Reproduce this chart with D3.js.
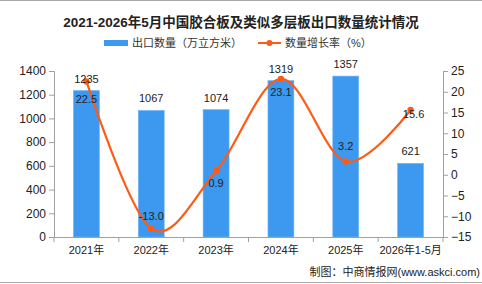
<!DOCTYPE html>
<html><head><meta charset="utf-8">
<script src="https://cdn.jsdelivr.net/npm/d3@7"></script>
<style>
body{margin:0;background:#fff;}
text{font-family:"Liberation Sans","Noto Sans CJK SC",sans-serif;}
</style></head>
<body><svg id="c" width="482" height="284"></svg>
<script>
const categories = ["2021年","2022年","2023年","2024年","2025年","2026年1-5月"];
const exportVolume = [1235,1067,1074,1319,1357,621];
const growthRate = [22.5,-13.0,0.9,23.1,3.2,15.6];
const leftTicks = [0,200,400,600,800,1000,1200,1400];
const rightTicks = [-15,-10,-5,0,5,10,15,20,25];
const title = "2021-2026年5月中国胶合板及类似多层板出口数量统计情况";
const legendLabels = ["出口数量（万立方米）","数量增长率（%）"];
const source = "制图：中商情报网(www.askci.com)";

const svg = d3.select("#c");
const W = 482, H = 284;
const m = {l:54, r:443, t:71, b:237};
const barColor = "#3d98ef", lineColor = "#ff5b14", axisColor = "#a0a0a0";

svg.append("line").attr("x1",0).attr("x2",W).attr("y1",0.5).attr("y2",0.5).attr("stroke","#aaa");
svg.append("line").attr("x1",0).attr("x2",W).attr("y1",282.5).attr("y2",282.5).attr("stroke","#aaa");

svg.append("text").attr("x",241).attr("y",27).attr("text-anchor","middle")
  .attr("font-size","13.5px").attr("font-weight","bold").attr("fill","#222").text(title);

// legend
svg.append("rect").attr("x",104).attr("y",40).attr("width",24).attr("height",6).attr("fill",barColor);
svg.append("text").attr("x",132).attr("y",47).attr("font-size","11px").attr("fill","#333").text(legendLabels[0]);
svg.append("line").attr("x1",258).attr("x2",281).attr("y1",43).attr("y2",43).attr("stroke",lineColor).attr("stroke-width",2);
svg.append("circle").attr("cx",269.5).attr("cy",43).attr("r",3).attr("fill",lineColor);
svg.append("text").attr("x",285).attr("y",47).attr("font-size","11px").attr("fill","#333").text(legendLabels[1]);

const x = d3.scaleBand().domain(categories).range([m.l,m.r]).paddingInner(0.6).paddingOuter(0.3);
const xb = d3.scaleBand().domain(categories).range([m.l,m.r]);
const yL = d3.scaleLinear().domain([0,1400]).range([m.b,m.t]);
const yR = d3.scaleLinear().domain([-15,25]).range([m.b,m.t]);

// bars
svg.selectAll("rect.bar").data(exportVolume).enter().append("rect").attr("class","bar")
  .attr("x",(d,i)=>x(categories[i])).attr("width",x.bandwidth())
  .attr("y",d=>yL(d)).attr("height",d=>yL(0)-yL(d))
  .attr("fill",barColor).attr("stroke","#6fb4f5").attr("stroke-width",0.6);

// axes
const axL = svg.append("g").attr("transform",`translate(${m.l},0)`)
  .call(d3.axisLeft(yL).tickValues(leftTicks).tickSize(5).tickPadding(3).tickFormat(d3.format("d")));
const axR = svg.append("g").attr("transform",`translate(${m.r},0)`)
  .call(d3.axisRight(yR).tickValues(rightTicks).tickSize(5).tickPadding(3)
  .tickFormat(d=>d<0?"\u2212"+Math.abs(d):d));
const axX = svg.append("g").attr("transform",`translate(0,${m.b})`)
  .call(d3.axisBottom(xb).tickSize(0).tickPadding(9));
// band boundary ticks
svg.append("g").selectAll("line").data(categories.concat(["end"])).enter().append("line")
  .attr("x1",(d,i)=>m.l+i*xb.step()).attr("x2",(d,i)=>m.l+i*xb.step())
  .attr("y1",m.b).attr("y2",m.b+5).attr("stroke",axisColor);
[axL,axR,axX].forEach(a=>{
  a.selectAll("path,line").attr("stroke",axisColor);
  a.selectAll("text").attr("fill","#222");
});
axL.selectAll("text").attr("font-size","12px");
axR.selectAll("text").attr("font-size","12px");
axX.selectAll("text").attr("font-size","11px");
axX.select(".domain").attr("d",`M${m.l},0.5H${m.r}`);

// line
const cx = (d,i)=>xb(categories[i])+xb.bandwidth()/2;
const line = d3.line().x(cx).y(d=>yR(d)).curve(d3.curveCatmullRom.alpha(0));
svg.append("path").datum(growthRate).attr("d",line).attr("fill","none")
  .attr("stroke",lineColor).attr("stroke-width",2.2);
svg.selectAll("circle.pt").data(growthRate).enter().append("circle").attr("class","pt")
  .attr("cx",cx).attr("cy",d=>yR(d)).attr("r",3.2).attr("fill",lineColor);

// bar labels
svg.selectAll("text.bl").data(exportVolume).enter().append("text").attr("class","bl")
  .attr("x",cx).attr("y",d=>yL(d)-8).attr("text-anchor","middle")
  .attr("font-size","11px").attr("fill","#222").text(d=>d);

// line labels (offset of label baseline from point)
const dy = [22,-9,16,17,-11,8];
svg.selectAll("text.ll").data(growthRate).enter().append("text").attr("class","ll")
  .attr("x",(d,i)=>cx(d,i)+(i===5?3:0)).attr("y",(d,i)=>yR(d)+dy[i])
  .attr("text-anchor","middle").attr("font-size","11px").attr("fill","#222")
  .text(d=>d.toFixed(1));

svg.append("text").attr("x",480).attr("y",276).attr("text-anchor","end")
  .attr("font-size","11px").attr("fill","#222").text(source);
</script></body></html>
